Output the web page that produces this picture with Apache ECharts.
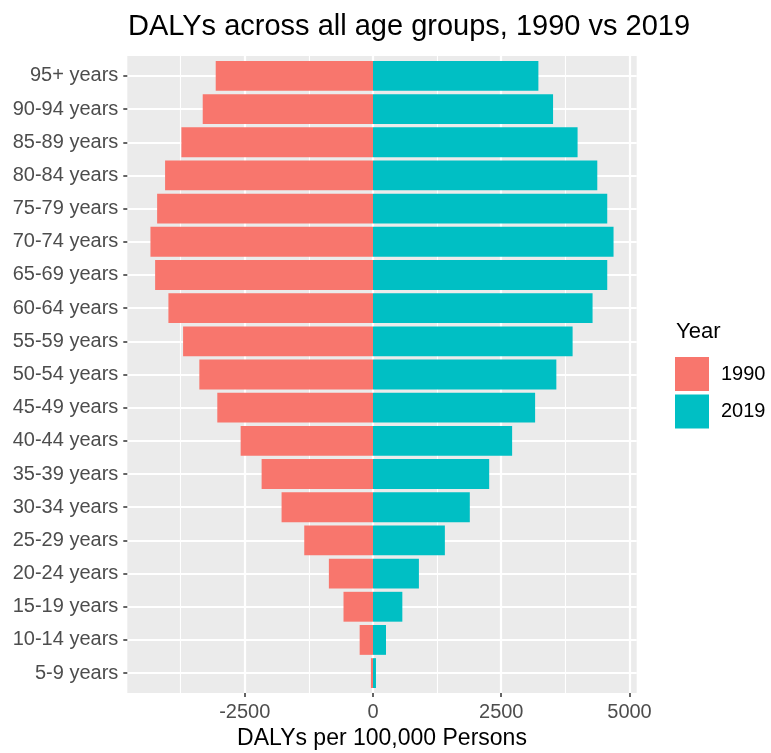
<!DOCTYPE html>
<html>
<head>
<meta charset="utf-8">
<script src="https://cdn.jsdelivr.net/npm/echarts@6/dist/echarts.min.js"></script>
<style>html,body{margin:0;padding:0;background:#fff;}#c{width:771px;height:753px;}</style>
</head>
<body>
<div id="c"></div>
<script>
const ageGroups = ['5-9 years','10-14 years','15-19 years','20-24 years','25-29 years','30-34 years','35-39 years','40-44 years','45-49 years','50-54 years','55-59 years','60-64 years','65-69 years','70-74 years','75-79 years','80-84 years','85-89 years','90-94 years','95+ years'];
const dalys1990 = [-40,-260,-575,-860,-1340,-1782,-2171,-2580,-3035,-3385,-3702,-3988,-4247,-4338,-4208,-4053,-3735,-3319,-3066];
const dalys2019 = [58,253,572,895,1401,1887,2265,2712,3160,3574,3891,4280,4566,4689,4566,4372,3988,3510,3224];
const majorTicks = [-2500,0,2500,5000];
const minorTicks = [-3750,-1250,1250,3750];
const seriesNames = ['1990','2019'];

const FONT = 'Liberation Sans, Arial, Helvetica, sans-serif';
const allVals = dalys1990.concat(dalys2019);
const dMin = Math.min.apply(null, allVals), dMax = Math.max.apply(null, allVals);
const xMin = dMin - 0.05*(dMax-dMin), xMax = dMax + 0.05*(dMax-dMin);
const catIdx = ageGroups.map((_, i) => i);

const PL = 127.3, PR = 636.7, PT = 56, PB = 693;
const bw = (PB-PT)/(ageGroups.length - 1 + 1.2);

const chart = echarts.init(document.getElementById('c'), null, {renderer:'canvas'});
chart.setOption({
  animation:false,
  backgroundColor:'#ffffff',
  textStyle:{fontFamily:FONT},
  title:[
    {text:'DALYs across all age groups, 1990 vs 2019', left:128, top:12, padding:0,
     textStyle:{fontSize:29, fontWeight:'normal', color:'#000', fontFamily:FONT}},
    {text:'Year', left:676, top:321, padding:0,
     textStyle:{fontSize:22, fontWeight:'normal', color:'#000', fontFamily:FONT}}
  ],
  legend:{
    orient:'vertical', left:675, top:357, padding:0, itemWidth:34, itemHeight:34, itemGap:3.6,
    icon:'rect', data:seriesNames,
    textStyle:{fontSize:20, color:'#000', fontFamily:FONT, padding:[0,0,0,7]}
  },
  grid:[
    {left:PL, top:PT, width:PR-PL, height:PB-PT, show:true, backgroundColor:'#EBEBEB', borderWidth:0,
     containLabel:false, outerBoundsMode:'none'},
    {left:PL, top:PT+0.1*bw, width:PR-PL, height:bw*ageGroups.length, show:false,
     containLabel:false, outerBoundsMode:'none'}
  ],
  xAxis:[
    {type:'value', gridIndex:0, min:xMin, max:xMax, position:'bottom',
     name:'DALYs per 100,000 Persons', nameLocation:'middle', nameGap:33,
     nameTextStyle:{fontSize:23, color:'#000', fontFamily:FONT},
     axisLine:{show:false, onZero:false},
     axisTick:{show:true, length:4, lineStyle:{color:'#333333', width:1.5}, customValues:majorTicks},
     axisLabel:{show:true, fontSize:20, color:'#4D4D4D', margin:9, customValues:majorTicks, fontFamily:FONT,
       formatter:function(v){return String(v);}},
     splitLine:{show:true, lineStyle:{color:'#ffffff', width:2.2}}},
    {type:'value', gridIndex:0, min:xMin, max:xMax, position:'bottom',
     axisLine:{show:false, onZero:false},
     axisTick:{show:false, customValues:minorTicks},
     axisLabel:{show:false},
     splitLine:{show:true, lineStyle:{color:'#ffffff', width:1.1}}},
    {type:'value', gridIndex:1, min:xMin, max:xMax, show:false,
     axisLine:{onZero:false},
     splitLine:{show:false}}
  ],
  yAxis:[
    {type:'value', gridIndex:0, min:-0.6, max:ageGroups.length-1+0.6,
     axisLine:{show:false, onZero:false}, axisLabel:{show:false},
     axisTick:{show:false, customValues:catIdx},
     splitLine:{show:true, lineStyle:{color:'#ffffff', width:2.2}}},
    {type:'category', gridIndex:1, data:ageGroups,
     axisLine:{show:false, onZero:false},
     axisTick:{show:true, alignWithLabel:true, length:4, lineStyle:{color:'#333333', width:1.5}},
     axisLabel:{fontSize:20, color:'#4D4D4D', margin:9, fontFamily:FONT},
     splitLine:{show:false}}
  ],
  series:[
    {name:seriesNames[0], type:'bar', xAxisIndex:2, yAxisIndex:1, data:dalys1990,
     barWidth:'90%', barGap:'-100%', itemStyle:{color:'#F8766D'}},
    {name:seriesNames[1], type:'bar', xAxisIndex:2, yAxisIndex:1, data:dalys2019,
     barWidth:'90%', barGap:'-100%', itemStyle:{color:'#00BFC4'}}
  ]
});
</script>
</body>
</html>
